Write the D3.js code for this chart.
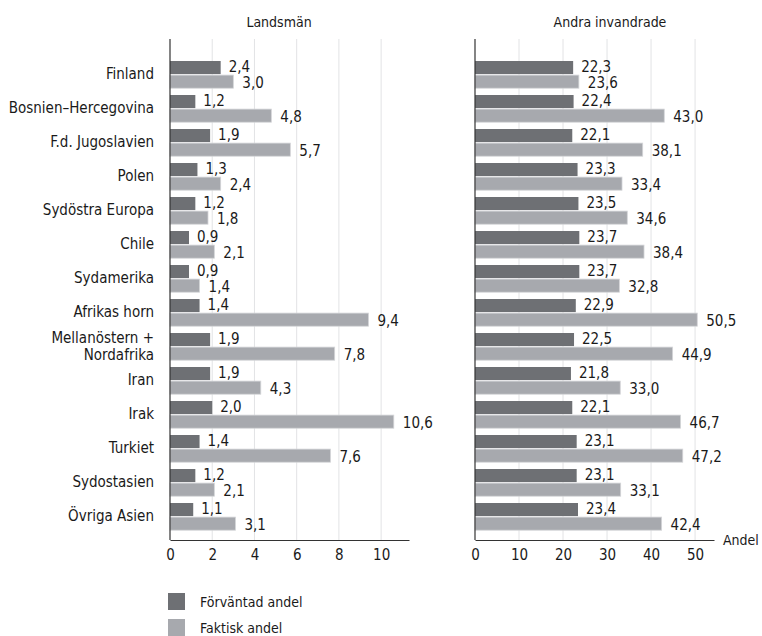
<!DOCTYPE html>
<html>
<head>
<meta charset="utf-8">
<script src="https://cdn.jsdelivr.net/npm/d3@7"></script>
<style>
  body { margin: 0; background: #fff; }
  svg text { font-family: "Liberation Sans Narrow", "DejaVu Sans Condensed", sans-serif; fill: #1a1a1a; }
</style>
</head>
<body>
<div id="chart"></div>
<script>
// data
var categories = ["Finland", "Bosnien–Hercegovina", "F.d. Jugoslavien", "Polen", "Sydöstra Europa",
  "Chile", "Sydamerika", "Afrikas horn", "Mellanöstern +\nNordafrika", "Iran", "Irak", "Turkiet",
  "Sydostasien", "Övriga Asien"];
var landsmanExpected = [2.4, 1.2, 1.9, 1.3, 1.2, 0.9, 0.9, 1.4, 1.9, 1.9, 2.0, 1.4, 1.2, 1.1];
var landsmanActual = [3.0, 4.8, 5.7, 2.4, 1.8, 2.1, 1.4, 9.4, 7.8, 4.3, 10.6, 7.6, 2.1, 3.1];
var andraExpected = [22.3, 22.4, 22.1, 23.3, 23.5, 23.7, 23.7, 22.9, 22.5, 21.8, 22.1, 23.1, 23.1, 23.4];
var andraActual = [23.6, 43.0, 38.1, 33.4, 34.6, 38.4, 32.8, 50.5, 44.9, 33.0, 46.7, 47.2, 33.1, 42.4];
var leftTicks = [0, 2, 4, 6, 8, 10];
var rightTicks = [0, 10, 20, 30, 40, 50];
var seriesNames = ["Förväntad andel", "Faktisk andel"];

var dark = "#6e7074";
var light = "#a7a9ae";
var fontSize = 15;

var svg = d3.select("#chart").append("svg")
  .attr("width", 762)
  .attr("height", 636);

var plotTop = 39, plotBottom = 540;

var y = d3.scaleBand()
  .domain(categories)
  .range([57.6, 533.6])
  .paddingInner(0.2)
  .paddingOuter(0.1);

var fmt = function(v) { return d3.format(".1f")(v).replace(".", ","); };

function panel(x0, x1, domainMax, ticks, exp, act, title, titleX) {
  var x = d3.scaleLinear().domain([0, domainMax]).range([x0, x1]);
  var g = svg.append("g");

  // gridlines
  g.selectAll(".grid")
    .data(ticks.filter(function(d) { return d > 0; }))
    .enter().append("line")
    .attr("x1", function(d) { return x(d); })
    .attr("x2", function(d) { return x(d); })
    .attr("y1", plotTop)
    .attr("y2", plotBottom)
    .attr("stroke", "#e2e3e5")
    .attr("stroke-width", 1);

  var bh = y.bandwidth() / 2;

  // expected bars
  g.selectAll(".exp")
    .data(exp)
    .enter().append("rect")
    .attr("x", x(0))
    .attr("y", function(d, i) { return y(categories[i]); })
    .attr("width", function(d) { return x(d) - x(0); })
    .attr("height", bh - 0.5)
    .attr("fill", dark);

  // actual bars
  g.selectAll(".act")
    .data(act)
    .enter().append("rect")
    .attr("x", x(0))
    .attr("y", function(d, i) { return y(categories[i]) + bh + 0.5; })
    .attr("width", function(d) { return x(d) - x(0); })
    .attr("height", bh - 0.5)
    .attr("fill", light)
    .attr("stroke", "#d4d5d8")
    .attr("stroke-width", 0.8);

  // value labels
  g.selectAll(".expl")
    .data(exp)
    .enter().append("text")
    .attr("x", function(d) { return x(d) + 8; })
    .attr("y", function(d, i) { return y(categories[i]) + bh / 2 - 1.5; })
    .attr("dy", "0.35em")
    .style("font-size", fontSize + "px")
    .text(fmt);

  g.selectAll(".actl")
    .data(act)
    .enter().append("text")
    .attr("x", function(d) { return x(d) + 9; })
    .attr("y", function(d, i) { return y(categories[i]) + bh * 1.5 + 1.5; })
    .attr("dy", "0.35em")
    .style("font-size", fontSize + "px")
    .text(fmt);

  // axes
  g.append("line")
    .attr("x1", x0).attr("x2", x0)
    .attr("y1", plotTop).attr("y2", plotBottom)
    .attr("stroke", "#333").attr("stroke-width", 1.2);

  var ax = g.append("g")
    .attr("transform", "translate(0," + plotBottom + ")")
    .call(d3.axisBottom(x).tickValues(ticks).tickSize(0).tickPadding(9).tickFormat(d3.format("d")));
  ax.select(".domain").attr("stroke", "#333").attr("stroke-width", 1.2);
  ax.selectAll("text").style("font-size", fontSize + "px").attr("fill", "#1a1a1a")
    .style("font-family", "'Liberation Sans Narrow', 'DejaVu Sans Condensed', sans-serif");

  g.append("text")
    .attr("x", titleX)
    .attr("y", 27)
    .attr("text-anchor", "middle")
    .style("font-size", "14px")
    .text(title);

  return x;
}

panel(170, 409, 11.32, leftTicks, landsmanExpected, landsmanActual, "Landsmän", 279);
panel(475, 714, 54.3, rightTicks, andraExpected, andraActual, "Andra invandrade", 610);

// category labels
svg.selectAll(".cat")
  .data(categories)
  .enter().append("text")
  .attr("text-anchor", "end")
  .style("font-size", fontSize + "px")
  .each(function(d) {
    var lines = d.split("\n");
    var cy = y(d) + y.bandwidth() / 2;
    var t = d3.select(this);
    lines.forEach(function(l, k) {
      t.append("tspan")
        .attr("x", 154)
        .attr("y", cy + (k - (lines.length - 1) / 2) * 17)
        .attr("dy", "0.3em")
        .text(l);
    });
  });

svg.append("text")
  .attr("x", 723)
  .attr("y", 540)
  .attr("dy", "0.35em")
  .style("font-size", "14px")
  .text("Andel");

// legend
var legend = svg.selectAll(".legend")
  .data(seriesNames)
  .enter().append("g")
  .attr("transform", function(d, i) { return "translate(168," + (593 + i * 26) + ")"; });

legend.append("rect")
  .attr("width", 17)
  .attr("height", 17)
  .attr("fill", function(d, i) { return i === 0 ? dark : light; });

legend.append("text")
  .attr("x", 32)
  .attr("y", 9)
  .attr("dy", "0.35em")
  .style("font-size", "14px")
  .text(function(d) { return d; });
</script>
</body>
</html>
